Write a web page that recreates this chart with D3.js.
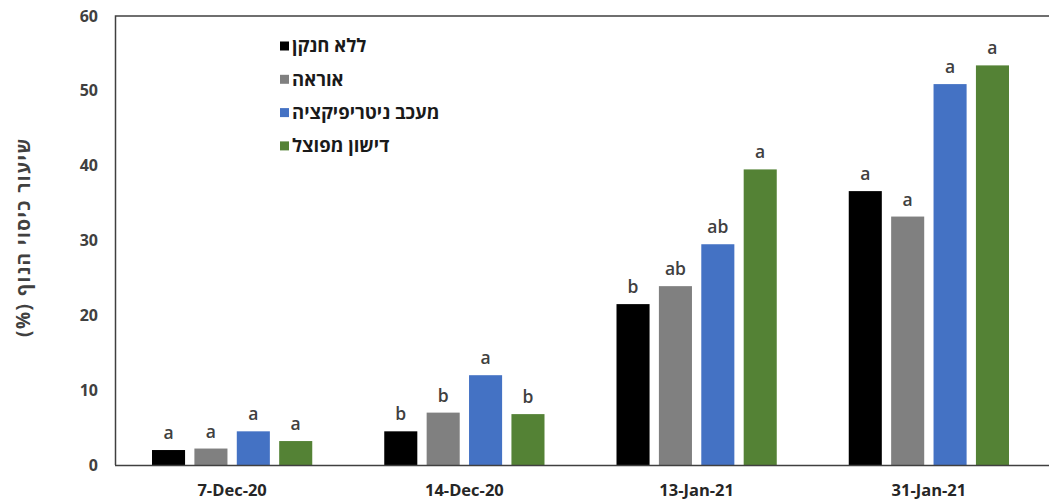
<!DOCTYPE html>
<html lang="he">
<head>
<meta charset="utf-8">
<script src="https://cdn.jsdelivr.net/npm/d3@7"></script>
<style>
  html, body { margin: 0; padding: 0; background: #fff; }
  svg { display: block; font-family: "Open Sans", "Noto Sans", sans-serif; }
</style>
</head>
<body>
<svg id="chart" width="1049" height="502"></svg>
<script>
// Sampling dates (x categories)
const dates = ["7-Dec-20", "14-Dec-20", "13-Jan-21", "31-Jan-21"];
// Treatments (legend entries)
const treatments = ["ללא חנקן", "אוראה", "מעכב ניטריפיקציה", "דישון מפוצל"];
const colors = ["#000000", "#808080", "#4472C4", "#548235"];
// Canopy cover (%) per treatment, one value per date
const noNitrogen = [2.0, 4.5, 21.5, 36.6];
const urea = [2.2, 7.0, 23.9, 33.2];
const nitrificationInhibitor = [4.5, 12.0, 29.5, 50.9];
const splitFertilization = [3.2, 6.8, 39.5, 53.4];
// Statistical significance letters
const lettersNoNitrogen = ["a", "b", "b", "a"];
const lettersUrea = ["a", "b", "ab", "a"];
const lettersInhibitor = ["a", "a", "ab", "a"];
const lettersSplit = ["a", "b", "a", "a"];
const yTicks = [0, 10, 20, 30, 40, 50, 60];
const yTitle = "שיעור כיסוי הנוף (%)";

const series = [noNitrogen, urea, nitrificationInhibitor, splitFertilization];
const letters = [lettersNoNitrogen, lettersUrea, lettersInhibitor, lettersSplit];

const svg = d3.select("#chart");
const plotLeft = 116, plotRight = 1045, plotTop = 16, plotBottom = 465;

const x0 = d3.scaleBand().domain(dates).range([plotLeft, plotRight])
  .paddingInner(0.31).paddingOuter(0.155);
const x1 = d3.scaleBand().domain(d3.range(treatments.length))
  .range([0, x0.bandwidth()]).paddingInner(0.22).paddingOuter(0);
const y = d3.scaleLinear().domain([0, 60]).range([plotBottom, plotTop]);

// frame: left and top lines
svg.append("path")
  .attr("d", `M${plotLeft - 0.5},${plotBottom} V${plotTop} H${plotRight + 10}`)
  .attr("fill", "none").attr("stroke", "#404040").attr("stroke-width", 1.5);

// y axis labels
const yAxis = d3.axisLeft(y).tickValues(yTicks).tickSize(0).tickPadding(18);
const gy = svg.append("g").attr("transform", `translate(${plotLeft},0)`).call(yAxis);
gy.select(".domain").remove();
gy.selectAll("text").attr("font-size", 16).attr("font-weight", 700)
  .attr("fill", "#404040").attr("font-family", "'Open Sans', sans-serif");

// bars
const groups = svg.append("g").selectAll("g").data(dates).join("g")
  .attr("transform", d => `translate(${x0(d)},0)`);

groups.each(function(date, di) {
  const g = d3.select(this);
  series.forEach((vals, si) => {
    g.append("rect")
      .attr("x", x1(si)).attr("width", x1.bandwidth())
      .attr("y", y(vals[di])).attr("height", y(0) - y(vals[di]))
      .attr("fill", colors[si]);
    g.append("text")
      .attr("x", x1(si) + x1.bandwidth() / 2)
      .attr("y", y(vals[di]) - 11)
      .attr("text-anchor", "middle")
      .attr("font-size", 17.5).attr("font-weight", 600)
      .attr("fill", "#404040")
      .text(letters[si][di]);
  });
});

// x axis
const xAxis = d3.axisBottom(x0).tickSize(0).tickPadding(19);
const gx = svg.append("g").attr("transform", `translate(0,${plotBottom})`).call(xAxis);
gx.select(".domain").attr("stroke", "#404040").attr("stroke-width", 1.5)
  .attr("d", `M${plotLeft - 1},0.5 H${plotRight + 10}`);
gx.selectAll("text").attr("font-size", 16.5).attr("font-weight", 700)
  .attr("fill", "#262626").attr("font-family", "'Open Sans', sans-serif");

// y title
svg.append("text")
  .attr("transform", `translate(30,237) rotate(-90)`)
  .attr("text-anchor", "middle")
  .attr("direction", "rtl")
  .attr("font-size", 19).attr("font-weight", 700)
  .attr("letter-spacing", 1.5)
  .attr("fill", "#404040")
  .text(yTitle);

// legend
const legend = svg.append("g").attr("transform", "translate(280,46)");
treatments.forEach((t, i) => {
  const row = legend.append("g").attr("transform", `translate(0,${i * 33.3})`);
  row.append("rect").attr("x", 0).attr("y", -4.5).attr("width", 9).attr("height", 9)
    .attr("fill", colors[i]);
  row.append("text").attr("x", 12).attr("y", 0).attr("dy", "0.35em")
    .attr("font-size", 18.5).attr("font-weight", 700).attr("fill", "#1a1a1a")
    .text(t);
});
</script>
</body>
</html>
